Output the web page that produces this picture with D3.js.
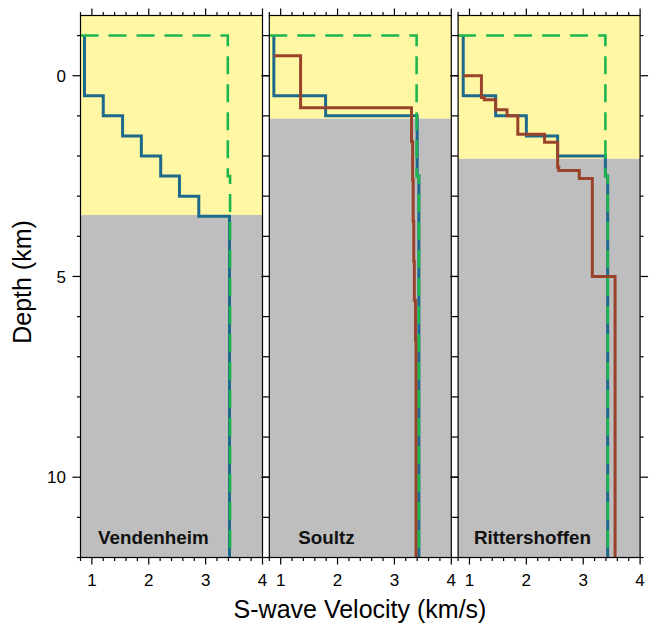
<!DOCTYPE html>
<html><head><meta charset="utf-8">
<script src="https://cdn.jsdelivr.net/npm/d3@7"></script>
<style>body{margin:0;background:#fff;} svg{display:block;}</style>
</head><body>
<script>
// ---- data ----
const panelNames = ["Vendenheim", "Soultz", "Rittershoffen"];
const sedimentBase = [3.47, 1.07, 2.07];           // km, bottom of yellow layer
const velTicksMajor = [1, 2, 3, 4];
const depthTicksMajor = [0, 5, 10];
// reference model (green dashed), same in all panels
const refTops = [-1, -1, 2.5];
const refVel  = [0.8, 3.39, 3.43];
// blue profiles
const blueTopsV = [-1, 0.5, 1.0, 1.5, 2.0, 2.5, 3.0, 3.5];
const blueVelV  = [0.87, 1.2, 1.54, 1.87, 2.21, 2.54, 2.88, 3.42];
const blueTopsS = [-1, 0.5, 1.0, 2.5];
const blueVelS  = [0.88, 1.79, 3.40, 3.43];
const blueTopsR = [-1, 0.5, 1.0, 1.5, 2.0, 2.5];
const blueVelR  = [0.89, 1.46, 2.0, 2.55, 3.39, 3.43];
// red profiles
const redTopsS = [-0.5, -0.5, 0.8, 1.64, 2.59, 3.63, 4.63, 5.59, 6.58];
const redVelS  = [0.88, 1.35, 3.30, 3.32, 3.33, 3.34, 3.35, 3.37, 3.38];
const redTopsR = [0, 0, 0.54, 0.6, 0.85, 1.0, 1.46, 1.66, 2.28, 2.36, 2.56, 5.0];
const redVelR  = [0.89, 1.21, 1.26, 1.46, 1.66, 1.85, 2.32, 2.55, 2.57, 2.93, 3.16, 3.56];

const blueProfiles = [[blueTopsV, blueVelV], [blueTopsS, blueVelS], [blueTopsR, blueVelR]];
const redProfiles  = [null, [redTopsS, redVelS], [redTopsR, redVelR]];
const labelX = [98, 298.3, 474];

// ---- layout ----
const W = 654, H = 625;
const yTop = 15.5, yBot = 557.5;
const panelW = 182, gap = 6.8, left0 = 80.5;
const depthDomain = [-1.5, 12];
const velDomain = [0.8, 4];

const svg = d3.select("body").append("svg").attr("width", W).attr("height", H)
  .style("font-family", "'Liberation Sans', Arial, Helvetica, sans-serif");

const y = d3.scaleLinear().domain(depthDomain).range([yTop, yBot]);
const x = d3.scaleLinear().domain(velDomain).range([0, panelW]);

const yellow = "#fff7a4", gray = "#bebebe";
const blue = "#1d6a8d", red = "#9a432b", green = "#1db64d";

function stepPoints(tops, vels) {
  const pts = [];
  for (let i = 0; i < tops.length; i++) {
    const bot = i < tops.length - 1 ? tops[i + 1] : depthDomain[1];
    pts.push([vels[i], tops[i]], [vels[i], bot]);
  }
  return pts;
}
const line = d3.line().x(d => x(d[0])).y(d => y(d[1]));

const minorVel = d3.range(8, 41, 2).map(v => v / 10);
const depthTicks = d3.range(-1, 13, 1);

panelNames.forEach((name, i) => {
  const px = left0 + i * (panelW + gap);
  const g = svg.append("g").attr("transform", `translate(${px},0)`);
  const clipId = "clip" + i;
  g.append("clipPath").attr("id", clipId).append("rect")
    .attr("x", 0).attr("y", yTop).attr("width", panelW).attr("height", yBot - yTop);
  const pg = g.append("g").attr("clip-path", `url(#${clipId})`);

  pg.append("rect").attr("x", 0).attr("y", y(depthDomain[0])).attr("width", panelW)
    .attr("height", y(sedimentBase[i]) - y(depthDomain[0])).attr("fill", yellow);
  pg.append("rect").attr("x", 0).attr("y", y(sedimentBase[i])).attr("width", panelW)
    .attr("height", y(depthDomain[1]) - y(sedimentBase[i])).attr("fill", gray);

  const bp = blueProfiles[i];
  pg.append("path").attr("d", line(stepPoints(bp[0], bp[1])))
    .attr("fill", "none").attr("stroke", blue).attr("stroke-width", 3);
  const rp = redProfiles[i];
  if (rp) {
    pg.append("path").attr("d", line(stepPoints(rp[0], rp[1])))
      .attr("fill", "none").attr("stroke", red).attr("stroke-width", 3);
  }
  pg.append("path").attr("d", line(stepPoints(refTops, refVel)))
    .attr("fill", "none").attr("stroke", green).attr("stroke-width", 2.6)
    .attr("stroke-dasharray", "18,10");

  pg.append("text").attr("x", labelX[i] - px).attr("y", 544)
    .attr("font-weight", "bold").attr("font-size", 18.8).attr("fill", "#111").text(name);

  // frame
  g.append("rect").attr("x", 0).attr("y", yTop).attr("width", panelW).attr("height", yBot - yTop)
    .attr("fill", "none").attr("stroke", "#000").attr("stroke-width", 1.2);

  // x ticks top & bottom
  minorVel.forEach(v => {
    const major = velTicksMajor.some(m => Math.abs(m - v) < 1e-6);
    const len = major ? 7 : 3.5;
    g.append("line").attr("x1", x(v)).attr("x2", x(v)).attr("y1", yTop).attr("y2", yTop - len)
      .attr("stroke", "#000").attr("stroke-width", 1.2);
    g.append("line").attr("x1", x(v)).attr("x2", x(v)).attr("y1", yBot).attr("y2", yBot + len)
      .attr("stroke", "#000").attr("stroke-width", 1.2);
  });
  velTicksMajor.forEach(v => {
    g.append("text").attr("x", x(v)).attr("y", 586).attr("text-anchor", "middle")
      .attr("font-size", 17).attr("fill", "#000").text(v);
  });
  // y ticks left & right
  depthTicks.forEach(d => {
    const major = depthTicksMajor.includes(d);
    const len = major ? 8 : 3.5;
    g.append("line").attr("x1", 0).attr("x2", -len).attr("y1", y(d)).attr("y2", y(d))
      .attr("stroke", "#000").attr("stroke-width", 1.2);
    g.append("line").attr("x1", panelW).attr("x2", panelW + len).attr("y1", y(d)).attr("y2", y(d))
      .attr("stroke", "#000").attr("stroke-width", 1.2);
  });
  if (i === 0) {
    depthTicksMajor.forEach(d => {
      g.append("text").attr("x", -14.5).attr("y", y(d)).attr("dy", "0.36em")
        .attr("text-anchor", "end").attr("font-size", 17).attr("fill", "#000").text(d);
    });
  }
});

svg.append("text").attr("x", 360).attr("y", 618).attr("text-anchor", "middle")
  .attr("font-size", 25).attr("fill", "#000").text("S-wave Velocity (km/s)");
svg.append("text").attr("transform", "translate(31,282) rotate(-90)").attr("text-anchor", "middle")
  .attr("font-size", 25).attr("fill", "#000").text("Depth (km)");
</script>
</body></html>
